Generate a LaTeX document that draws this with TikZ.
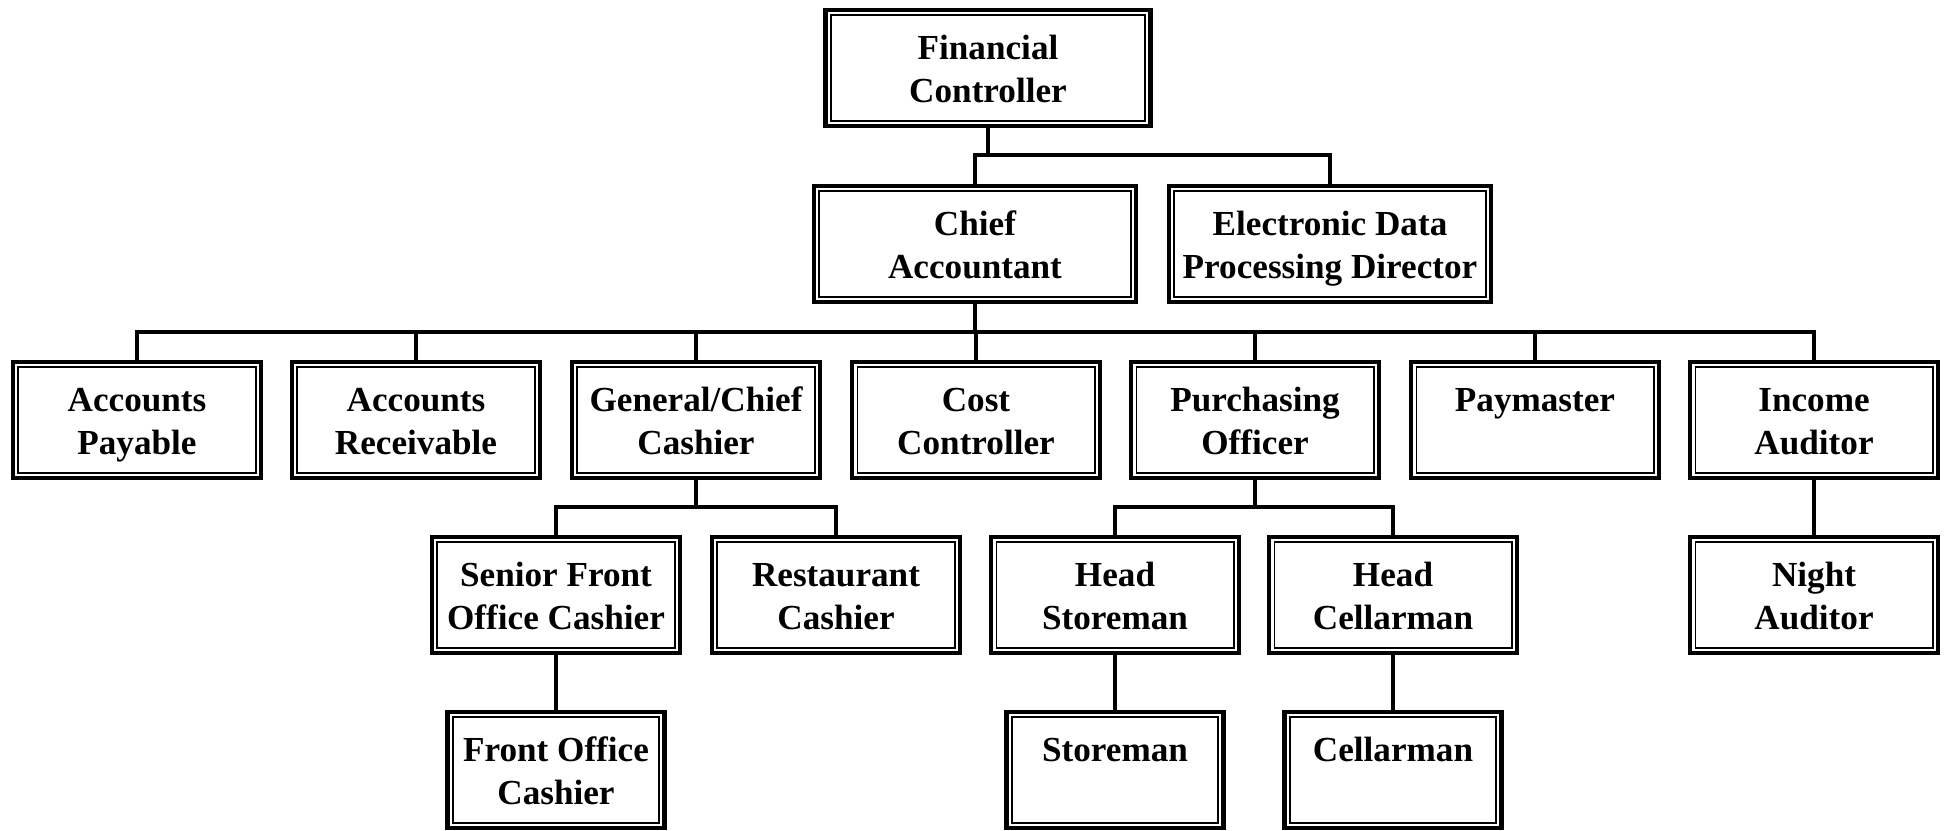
\documentclass[tikz,border=0pt]{standalone}
\usepackage{fontspec}
\setmainfont{Liberation Serif}
\usepackage{tikz}
\usetikzlibrary{positioning,calc}

\begin{document}
\begin{tikzpicture}[
  x=0.01cm, y=-0.01cm,
  post/.style={draw, line width=1.3pt, minimum width=2.475cm, minimum height=1.16cm,
               align=center, inner sep=0pt, font=\fontsize{10}{12.2}\selectfont\bfseries,
               execute at begin node=\strut, execute at end node=\strut,
               text height=23.4pt, text depth=3.7pt,
               path picture={\draw[line width=0.55pt]
                 ([shift={(1.5pt,1.5pt)}]path picture bounding box.south west) rectangle
                 ([shift={(-1.5pt,-1.5pt)}]path picture bounding box.north east);}},
  wide/.style={post, minimum width=3.22cm},
  small/.style={post, minimum width=2.17cm},
  link/.style={line width=1.1pt},
]
\useasboundingbox (0,0) rectangle (1949,830);

% top of the tree
\node[wide, minimum width=3.25cm] (fc) at (988, 68) {Financial\\Controller};
\node[wide] (ca)  at (975, 244)  {Chief\\Accountant};
\node[wide] (edp) at (1330, 244) {Electronic Data\\Processing Director};

% under the chief accountant
\node[post] (ap) at (137, 420)  {Accounts\\Payable};
\node[post] (ar) at (416, 420)  {Accounts\\Receivable};
\node[post] (gc) at (696, 420)  {General/Chief\\Cashier};
\node[post] (cc) at (976, 420)  {Cost\\Controller};
\node[post] (po) at (1255, 420) {Purchasing\\Officer};
\node[post] (pm) at (1535, 420) {Paymaster\\};
\node[post] (ia) at (1814, 420) {Income\\Auditor};

% fourth row
\node[post] (sfoc) at (556, 595)  {Senior Front\\Office Cashier};
\node[post] (rc)   at (836, 595)  {Restaurant\\Cashier};
\node[post] (hs)   at (1115, 595) {Head\\Storeman};
\node[post] (hc)   at (1393, 595) {Head\\Cellarman};
\node[post] (na)   at (1814, 595) {Night\\Auditor};

% bottom row
\node[small] (foc) at (556, 770)  {Front Office\\Cashier};
\node[small] (sm)  at (1115, 770) {Storeman\\};
\node[small] (cm)  at (1393, 770) {Cellarman\\};

% bus lines
\coordinate (bus1) at (0, 155);
\coordinate (bus2) at (0, 332);
\coordinate (bus3) at (0, 507);

\draw[link] (fc.south) -- (fc.south |- bus1);
\draw[link] (ca.north) -- (ca.north |- bus1) -- (edp.north |- bus1) -- (edp.north);

\draw[link] (ca.south) -- (ca.south |- bus2);
\draw[link] (ap.north) -- (ap.north |- bus2) -- (ia.north |- bus2) -- (ia.north);
\foreach \n in {ar,gc,cc,po,pm}
  \draw[link] (\n.north) -- (\n.north |- bus2);

\draw[link] (gc.south) -- (gc.south |- bus3);
\draw[link] (sfoc.north) -- (sfoc.north |- bus3) -- (rc.north |- bus3) -- (rc.north);
\draw[link] (po.south) -- (po.south |- bus3);
\draw[link] (hs.north) -- (hs.north |- bus3) -- (hc.north |- bus3) -- (hc.north);

\draw[link] (sfoc) -- (foc);
\draw[link] (hs) -- (sm);
\draw[link] (hc) -- (cm);
\draw[link] (ia) -- (na);
\end{tikzpicture}
\end{document}
